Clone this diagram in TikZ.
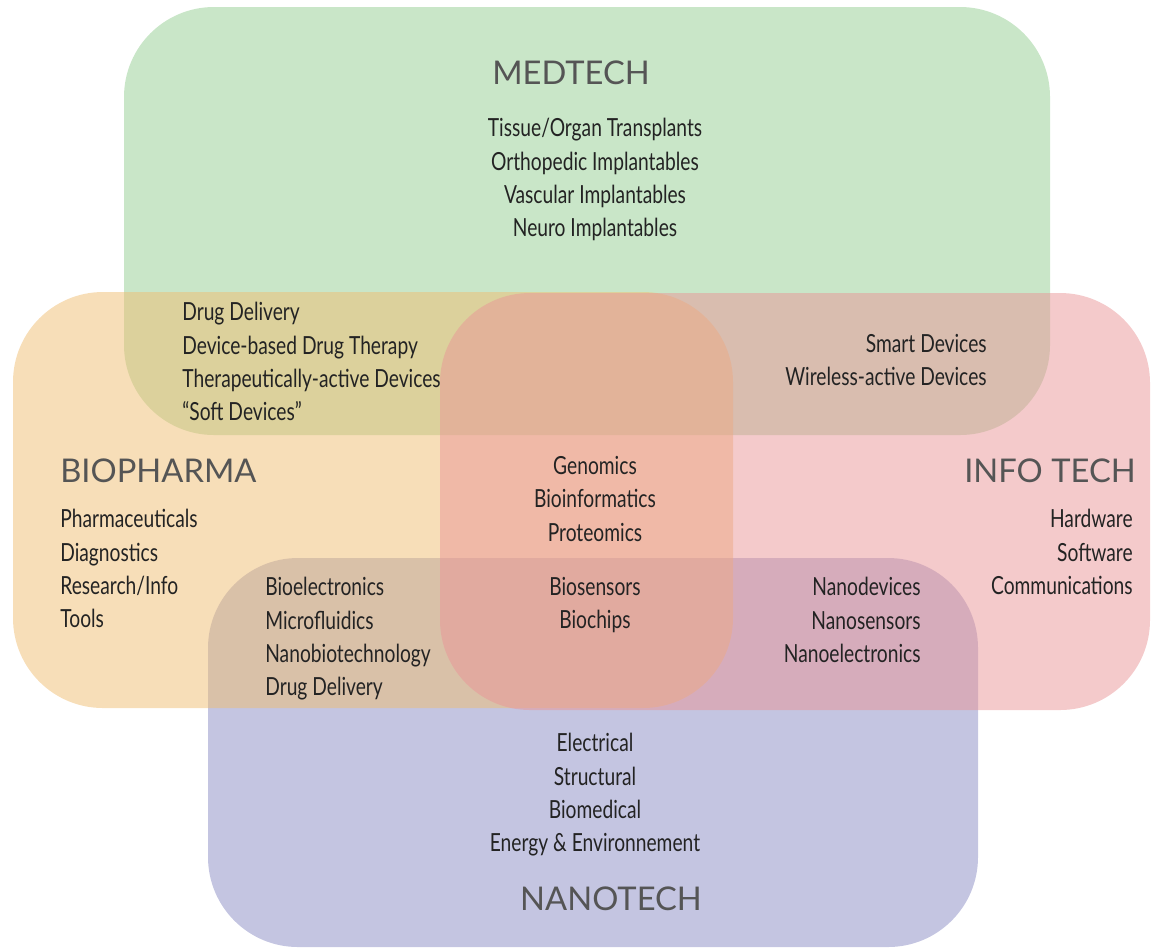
\documentclass[tikz,border=0pt]{standalone}
\usepackage{fontspec}
\setmainfont{Lato}
\newfontfamily\itemfont[FakeStretch=0.77]{Lato}
\newfontfamily\headfont{Lato}
\usepackage{tikz}
\usetikzlibrary{positioning}
\definecolor{medgreen}{RGB}{147,205,145}
\definecolor{biorange}{RGB}{239,189,113}
\definecolor{infopink}{RGB}{233,149,151}
\definecolor{nanoblue}{RGB}{137,139,195}
\definecolor{itemgray}{RGB}{35,35,35}
\definecolor{headgray}{RGB}{85,85,85}
\tikzset{
    region/.style={
        fill opacity=0.5,
        rounded corners=1.8cm
    },
    items/.style={
        font=\itemfont\fontsize{14.2}{19}\selectfont,
        text=itemgray,
        inner sep=0pt
    },
    heading/.style={
        font=\headfont\fontsize{18.6}{22}\selectfont,
        text=headgray,
        inner sep=0pt
    }
}

\begin{document}
\begin{tikzpicture}[x=0.02cm, y=-0.02cm]
\useasboundingbox (0,0) rectangle (1151,948);

% the four fields
\fill[region, medgreen] (124,7) rectangle (1050,435);
\fill[region, nanoblue] (208,558) rectangle (978,947);
\fill[region, biorange] (13,292) rectangle (733,708);
\fill[region, infopink] (440,293) rectangle (1150,710);

\node[heading, anchor=base] (medtech) at (571,84) {MEDTECH};
\node[heading, anchor=base west] (biopharma) at (60,482) {BIOPHARMA};
\node[heading, anchor=base east] (infotech) at (1136,482) {INFO TECH};
\node[heading, anchor=base] (nanotech) at (611,910) {NANOTECH};

\node[items, anchor=north, align=center] (med) at (595,118)
    {Tissue/Organ Transplants\\Orthopedic Implantables\\Vascular Implantables\\Neuro Implantables};
\node[items, anchor=north west, align=left] (medbio) at (182,302)
    {Drug Delivery\\Device-based Drug Therapy\\Therapeutically-active Devices\\“Soft Devices”};
\node[items, anchor=north east, align=right] (medinfo) at (987,334)
    {Smart Devices\\Wireless-active Devices};
\node[items, anchor=north west, align=left] (bio) at (60,509)
    {Pharmaceuticals\\Diagnostics\\Research/Info\\Tools};
\node[items, anchor=north, align=center] (core) at (595,456)
    {Genomics\\Bioinformatics\\Proteomics};
\node[items, anchor=north, align=center] (corenano) at (595,577)
    {Biosensors\\Biochips};
\node[items, anchor=north west, align=left] (bionano) at (265,577)
    {Bioelectronics\\Microfluidics\\Nanobiotechnology\\Drug Delivery};
\node[items, anchor=north east, align=right] (infonano) at (921,577)
    {Nanodevices\\Nanosensors\\Nanoelectronics};
\node[items, anchor=north east, align=right] (info) at (1133,509)
    {Hardware\\Software\\Communications};
\node[items, anchor=north, align=center] (nano) at (595,733)
    {Electrical\\Structural\\Biomedical\\Energy \& Environnement};

\end{tikzpicture}
\end{document}
